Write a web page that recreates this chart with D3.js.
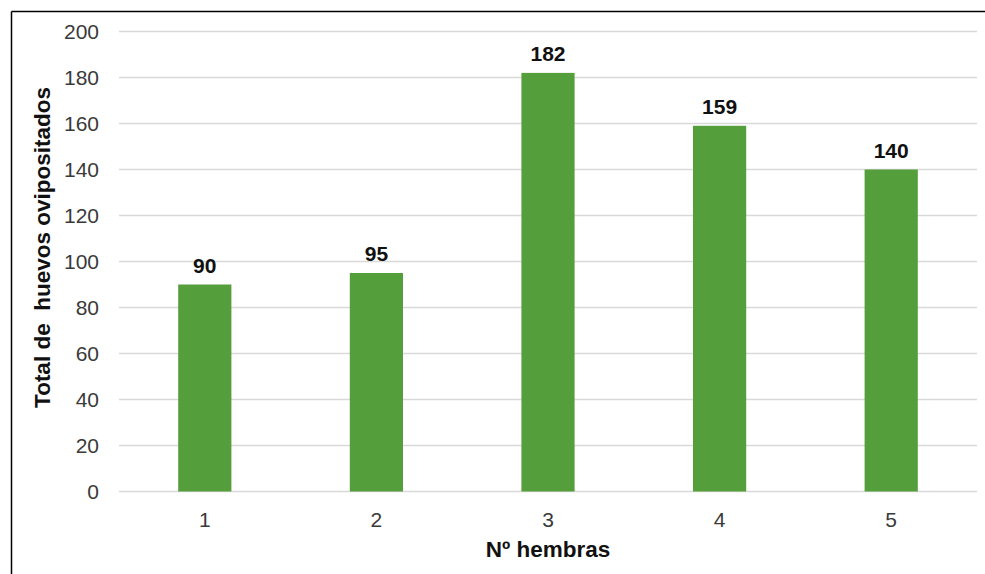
<!DOCTYPE html>
<html>
<head>
<meta charset="utf-8">
<script src="https://cdn.jsdelivr.net/npm/d3@7"></script>
<style>
  html, body { margin: 0; padding: 0; background: #fff; }
  svg { display: block; }
</style>
</head>
<body>
<script>
// Eggs laid per number of females
const categories = ["1", "2", "3", "4", "5"];
const values = [90, 95, 182, 159, 140];
const yTicks = [0, 20, 40, 60, 80, 100, 120, 140, 160, 180, 200];
const xTitle = "Nº hembras";
const yTitle = "Total de  huevos ovipositados";

const W = 985, H = 574;
const margin = { left: 119, right: 8, top: 31.5, bottom: 82.5 };
const plotW = W - margin.left - margin.right;
const plotH = H - margin.top - margin.bottom;
const FONT = "Liberation Sans, Arial, sans-serif";

const svg = d3.select("body").append("svg")
  .attr("width", W).attr("height", H);

// frame lines (top and left)
svg.append("line").attr("x1", 11.5).attr("x2", W).attr("y1", 11.5).attr("y2", 11.5)
  .attr("stroke", "#000").attr("stroke-width", 1.5);
svg.append("line").attr("x1", 11.5).attr("x2", 11.5).attr("y1", 11.5).attr("y2", H)
  .attr("stroke", "#000").attr("stroke-width", 1.5);

const g = svg.append("g").attr("transform", `translate(${margin.left},${margin.top})`);

const x = d3.scaleBand().domain(categories).range([0, plotW]).padding(0);
const y = d3.scaleLinear().domain([0, 200]).range([plotH, 0]);

// gridlines
g.append("g").selectAll("line").data(yTicks).join("line")
  .attr("x1", 0).attr("x2", plotW)
  .attr("y1", d => y(d)).attr("y2", d => y(d))
  .attr("stroke", "#d9d9d9").attr("stroke-width", 1.3);

// y axis labels
const yAxis = g.append("g").call(d3.axisLeft(y).tickValues(yTicks).tickSize(0).tickPadding(20));
yAxis.select(".domain").remove();
yAxis.selectAll("text")
  .attr("font-family", FONT)
  .attr("font-size", 21).attr("fill", "#3a3a3a");

// x axis labels
const xAxis = g.append("g").attr("transform", `translate(0,${plotH})`)
  .call(d3.axisBottom(x).tickSize(0).tickPadding(0));
xAxis.select(".domain").remove();
xAxis.selectAll("text")
  .attr("dy", null)
  .attr("y", 35.5)
  .attr("font-family", FONT)
  .attr("font-size", 21).attr("fill", "#3a3a3a");

// bars
const barW = x.bandwidth() * 0.31;
g.append("g").selectAll("rect").data(values).join("rect")
  .attr("x", (d, i) => x(categories[i]) + (x.bandwidth() - barW) / 2)
  .attr("y", d => y(d))
  .attr("width", barW)
  .attr("height", d => plotH - y(d))
  .attr("fill", "#549e3b");

// value labels
g.append("g").selectAll("text").data(values).join("text")
  .attr("x", (d, i) => x(categories[i]) + x.bandwidth() / 2)
  .attr("y", d => y(d) - 12)
  .attr("text-anchor", "middle")
  .attr("font-family", FONT)
  .attr("font-size", 21).attr("font-weight", "bold").attr("fill", "#111")
  .text(d => d);

// axis titles
svg.append("text")
  .attr("x", 548).attr("y", 556.5)
  .attr("text-anchor", "middle")
  .attr("font-family", FONT)
  .attr("font-size", 22.5).attr("font-weight", "bold").attr("fill", "#111")
  .text(xTitle);

svg.append("text")
  .attr("transform", `translate(49.5,247.5) rotate(-90)`)
  .attr("text-anchor", "middle")
  .attr("font-family", FONT)
  .attr("font-size", 22.5).attr("font-weight", "bold").attr("fill", "#111")
  .style("white-space", "pre")
  .text(yTitle);
</script>
</body>
</html>
